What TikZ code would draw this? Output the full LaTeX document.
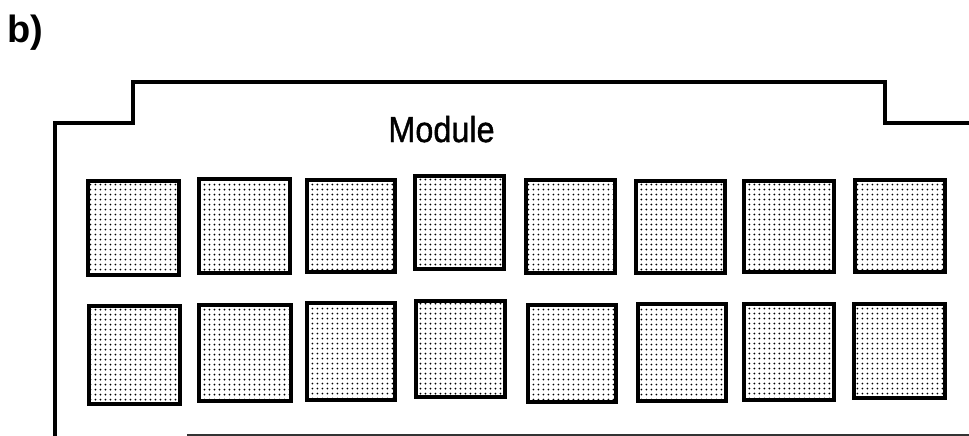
\documentclass[tikz,border=0pt]{standalone}
\usepackage{fontspec}
\setmainfont{Liberation Sans}
\newfontfamily\medsans[FakeBold=1.3]{Liberation Sans}
\usetikzlibrary{patterns.meta}
\tikzset{
  outline/.style={line width=3.6pt, line join=miter},
  chip/.style={draw, line width=3.8pt, inner sep=0pt,
    pattern={Dots[distance=5.4pt, radius=1.1pt]}, pattern color=black},
}
% place a chip by its left, top, right, bottom edges
\newcommand{\chipat}[5]{%
  \pgfmathsetmacro{\cx}{(#2+#4)/2}\pgfmathsetmacro{\cy}{(#3+#5)/2}%
  \pgfmathsetmacro{\cw}{#4-#2-3.8}\pgfmathsetmacro{\ch}{#5-#3-3.8}%
  \node[chip, minimum width=\cw pt, minimum height=\ch pt] (#1) at (\cx,\cy) {};}
\begin{document}
\begin{tikzpicture}[x=1pt, y=-1pt]
  \useasboundingbox (0,0) rectangle (969,436);
  % panel label
  \node[anchor=base west, inner sep=0pt, font=\fontsize{38}{40}\selectfont\bfseries] (lbl) at (7,43) {b)};
  % module housing
  \coordinate (h0) at (55,440);
  \coordinate (h1) at (55,123);
  \coordinate (h2) at (133,123);
  \coordinate (h3) at (133,82);
  \coordinate (h4) at (885,82);
  \coordinate (h5) at (885,123);
  \coordinate (h6) at (972,123);
  \draw[outline] (h0) -- (h1) -- (h2) -- (h3) -- (h4) -- (h5) -- (h6);
  \coordinate (b0) at (187,434.5);
  \coordinate (b1) at (972,434.5);
  \draw[line width=2pt, black!80] (b0) -- (b1);
  \node[anchor=base, inner sep=0pt, xscale=0.9, font=\fontsize{36}{38}\selectfont\medsans] (title) at (441.5,142) {Module};
  % upper row of chips
  \chipat{a1}{86}{179}{181}{277}
  \chipat{a2}{197}{177}{292}{275}
  \chipat{a3}{305}{178}{397}{274}
  \chipat{a4}{413}{174}{506}{271}
  \chipat{a5}{524}{178}{617}{275}
  \chipat{a6}{634}{179}{727}{275}
  \chipat{a7}{742}{179}{836}{274}
  \chipat{a8}{853}{178}{947}{274}
  % lower row of chips
  \chipat{c1}{87}{304}{182}{406}
  \chipat{c2}{197}{303}{293}{403}
  \chipat{c3}{305}{301}{397}{402}
  \chipat{c4}{414}{299}{507}{399}
  \chipat{c5}{526}{303}{618}{404}
  \chipat{c6}{636}{302}{728}{403}
  \chipat{c7}{742}{302}{836}{402}
  \chipat{c8}{852}{302}{947}{400}
\end{tikzpicture}
\end{document}
